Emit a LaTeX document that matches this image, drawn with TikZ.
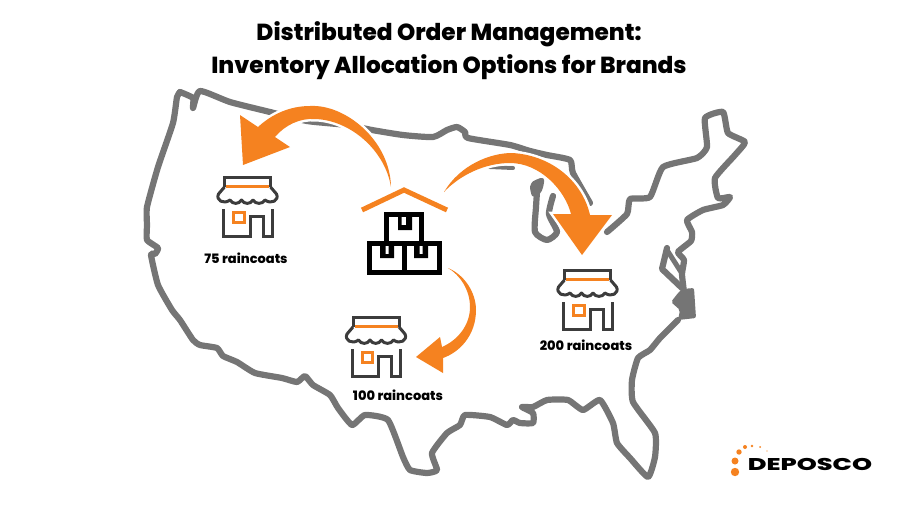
\documentclass[tikz,border=0pt]{standalone}
\usepackage{fontspec}
\setmainfont{Poppins}
\newfontfamily\heavyfont{Poppins ExtraBold}
\usetikzlibrary{positioning}
\definecolor{deposcoorange}{HTML}{F58220}
\definecolor{mapgray}{HTML}{757575}
\definecolor{storegray}{HTML}{3C3C3C}
\tikzset{title text/.style={font=\fontsize{23.2}{33}\selectfont\heavyfont, align=center}}
\tikzset{count text/.style={font=\fontsize{13}{15}\selectfont\heavyfont, inner sep=0pt}}
\tikzset{flow arrow/.style={fill=deposcoorange, line join=miter, preaction={draw=white, line width=5pt}}}
\tikzset{map line/.style={draw=mapgray, line width=6.2pt, line join=round, line cap=round}}
\tikzset{box line/.style={draw=black, line width=5pt, line join=miter}}
\tikzset{store/.pic={
\draw[storegray, line width=3pt, line join=miter] (-23,11) -- (-23,1) -- (23,1) -- (23,11);
\draw[storegray, line width=3pt, line join=round] (-23,11) -- (-29,18) .. controls (-32,24) and (-24,29) .. (-17.5,24) .. controls (-15,28.5) and (-8.5,28.5) .. (-6,24) .. controls (-3.5,28.5) and (3,28.5) .. (5.5,24) .. controls (8,28.5) and (15,28.5) .. (17.5,24) .. controls (24,29) and (32,24) .. (29,18) -- (23,11);
\draw[storegray, line width=3pt, line join=miter] (-24,33) -- (-24,60) -- (2.5,60) -- (2.5,40) -- (15.5,40) -- (15.5,60) -- (24.5,60) -- (24.5,33);
\draw[deposcoorange, line width=3pt] (-21.5,10.5) -- (21.5,10.5);
\draw[deposcoorange, line width=3pt] (-14,36) rectangle (-3.5,46);
}}
\begin{document}
\begin{tikzpicture}[x=1pt, y=-1pt]
\useasboundingbox (0,0) rectangle (900,512);
\node[title text] (title) at (449,51) {Distributed Order Management:\\Inventory Allocation Options for Brands};
% map
\draw[map line] plot[smooth, tension=0.35] coordinates {(180,92) (193,98) (193,108) (200,91) (230,102) (270,112) (307,121) (347,125) (372,130) (403,135) (433,137) (447,130) (457,127) (465,132) (468,138) (510,145) (530,151) (547,155) (570,160) (573,173) (590,203)};
\draw[map line, line width=4pt] (490,167) -- (513,168);
\draw[map line, fill=mapgray, line width=4pt] plot[smooth, tension=0.4] coordinates {(534,183) (542,180) (540,190) (534,195) (532,187) (534,183)};
\draw[map line] plot[smooth, tension=0.4] coordinates {(537,192) (536,207) (535,232) (547,240) (557,232) (549,214) (553,196)};
\draw[map line] plot[smooth, tension=0.3] coordinates {(607,232) (627,214) (630,199) (650,197) (663,167) (697,158) (707,147) (705,118) (723,112) (728,133) (745,142) (735,155) (715,178) (718,198) (730,197) (723,205) (703,210) (687,220) (692,232) (691,241) (678,252) (684,260) (682,274) (684,292)};
\draw[map line] (667,248) -- (662,269) -- (682,288);
\draw[map line, line width=5pt] (667,250) -- (681,272);
\fill[mapgray, rounded corners=2pt] (682,289) -- (694,288) -- (696,318) -- (678,320) -- (680,310) -- (671,302) -- (678,293) -- cycle;
\draw[map line] plot[smooth, tension=0.3] coordinates {(678,320) (660,338) (650,350) (638,358) (632,380) (633,402) (655,433) (655,457) (648,477) (630,458) (617,443) (613,423) (600,400) (583,410) (568,400) (547,400) (533,407) (522,407) (533,413) (533,423) (520,423) (513,420) (507,425) (490,417) (465,415) (460,425) (447,433) (432,453) (437,470) (427,473) (410,470) (403,457) (388,420) (365,415) (352,425) (338,408) (330,395) (313,385) (305,376) (297,382) (282,378) (255,373) (237,362) (223,356) (217,348) (200,345) (193,340) (180,320) (172,310) (158,285) (151,255) (155,254) (158,248) (147,240) (147,225) (147,207) (158,167) (173,123) (177,97) (180,92)};
% arrows
\fill[flow arrow] (391,187) .. controls (390,140) and (345,104) .. (310,106) .. controls (290,106) and (272,114) .. (258,127) -- (240,115) -- (243,165) -- (290,147) -- (275,137) .. controls (285,125) and (300,118) .. (315,119) .. controls (350,120) and (385,150) .. (391,187) -- cycle;
\fill[flow arrow] (444,192) .. controls (460,165) and (490,153) .. (512,153) .. controls (550,155) and (582,180) .. (590,215) -- (612,215) -- (582,255) -- (553,214) -- (571,214) .. controls (565,190) and (540,163) .. (510,163) .. controls (485,163) and (460,175) .. (444,192) -- cycle;
\fill[flow arrow] (448,268) .. controls (465,275) and (476,293) .. (476,310) .. controls (476,335) and (460,352) .. (443,358) -- (443,373) -- (416,357) -- (440,337) -- (442,347) .. controls (458,340) and (470,325) .. (470,307) .. controls (470,290) and (460,275) .. (448,268) -- cycle;
% warehouse
\draw[deposcoorange, line width=5pt, line join=miter] (362,210) -- (404,190) -- (447,210);
\draw[box line] (386.5,243.5) -- (386.5,214.5) -- (421.5,214.5) -- (421.5,243.5);
\draw[box line] (369.5,243.5) rectangle (404,272.5);
\draw[box line] (404,243.5) rectangle (439.5,272.5);
\fill[black] (398,214) -- (401.5,214) -- (401.5,225) -- (406,225) -- (406,214) -- (412,214) -- (412,230) -- (398,230) -- cycle;
\fill[black] (380,244) -- (385.5,244) -- (385.5,254) -- (388.5,254) -- (388.5,244) -- (394,244) -- (394,258) -- (380,258) -- cycle;
\fill[black] (414,244) -- (419.5,244) -- (419.5,254) -- (422.5,254) -- (422.5,244) -- (428,244) -- (428,258) -- (414,258) -- cycle;
% stores
\pic at (247.5,176) {store};
\pic at (587.5,269) {store};
\pic at (376,316) {store};
\node[count text] (west) at (246,258) {75 raincoats};
\node[count text] (south) at (398,395) {100 raincoats};
\node[count text] (east) at (586,345) {200 raincoats};
% logo
\fill[deposcoorange] (735,472) circle (4.2);
\fill[deposcoorange] (735,461) circle (3.5);
\fill[deposcoorange] (739,452) circle (2.7);
\fill[deposcoorange] (745,447) circle (2);
\fill[deposcoorange] (752,446) circle (1.3);
\fill[deposcoorange] (760,447) circle (1);
\fill[deposcoorange] (767,451) circle (0.6);
\node[inner sep=0pt, font=\fontsize{17}{17}\selectfont\heavyfont, xscale=1.5] (logo) at (810,464) {DEPOSCO};
\end{tikzpicture}
\end{document}
